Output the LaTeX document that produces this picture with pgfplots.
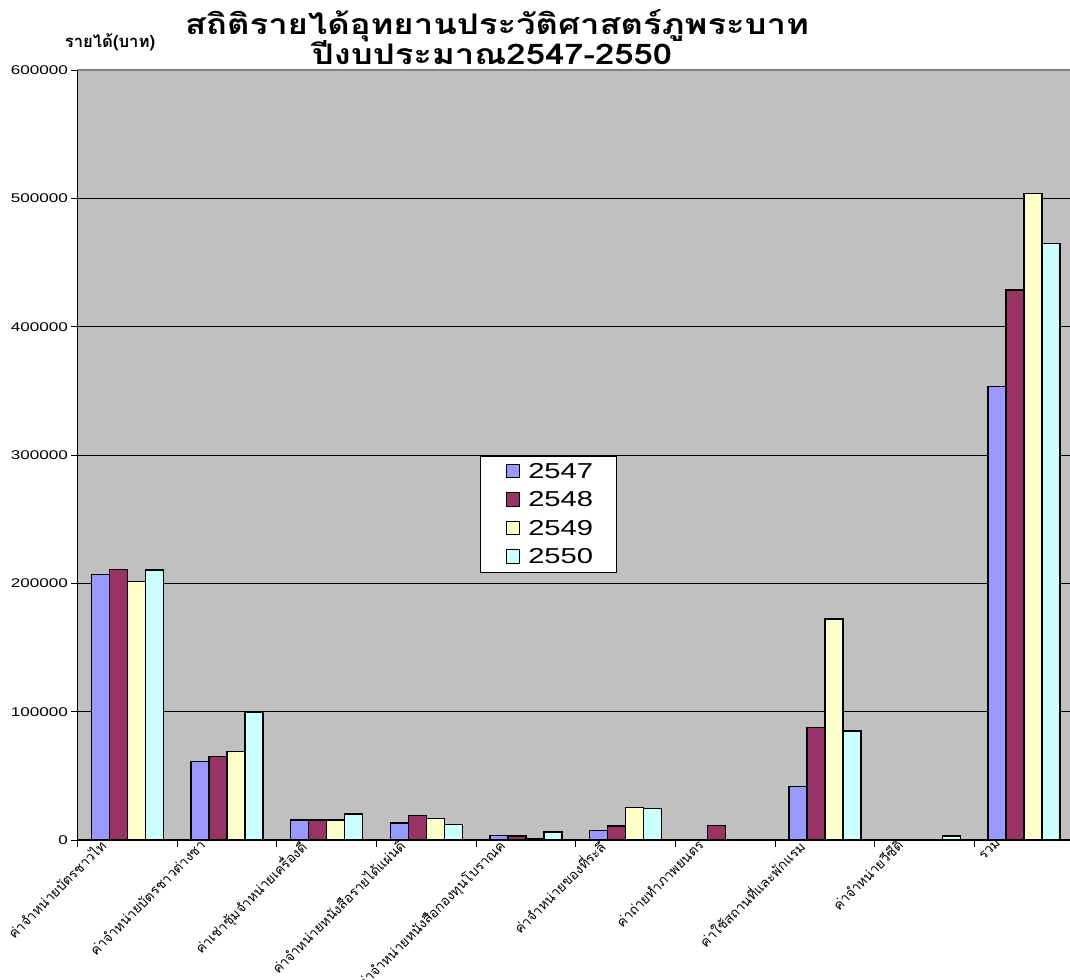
\documentclass[border=0pt]{standalone}
\usepackage{fontspec}
\usepackage{pgfplots}
\pgfplotsset{compat=1.18}
\setmainfont{Liberation Sans}
\newfontfamily\numfont{Liberation Sans}[FakeStretch=1.35]
\newfontfamily\thaifont[Script=Thai]{Loma}
\newfontfamily\thaititle[Script=Thai,FakeStretch=1.22]{Loma}
\definecolor{cA}{HTML}{9999FF}
\definecolor{cB}{HTML}{993366}
\definecolor{cC}{HTML}{FFFFCC}
\definecolor{cD}{HTML}{CCFFFF}
\definecolor{plotbg}{HTML}{C0C0C0}
\begin{document}
\begin{tikzpicture}
\useasboundingbox (-58.125pt,-104.25pt) rectangle (744.375pt,630pt);
\begin{axis}[
  at={(0,0)}, anchor=south west,
  scale only axis, width=747.4pt, height=577.5pt,
  xmin=-0.5, xmax=9.5, ymin=0, ymax=600000,
  ybar=0pt, bar width=13.5pt,
  axis background/.style={fill=plotbg},
  axis line style={draw=gray, line width=0.8pt},
  ytick={0,100000,200000,300000,400000,500000,600000},
  ymajorgrids, grid style={black, line width=0.6pt},
  scaled y ticks=false,
  yticklabel style={font=\numfont\fontsize{9.5}{10}\selectfont, inner sep=2pt,
    /pgf/number format/fixed, /pgf/number format/1000 sep={}, /pgf/number format/assume math mode=true},
  tick align=outside, major tick length=5pt, minor tick length=5pt,
  xtick pos=bottom, ytick pos=left,
  ytick style={black, line width=0.6pt},
  xtick={0,1,2,3,4,5,6,7,8,9},
  major x tick style={draw=none},
  minor xtick={-0.5,0.5,1.5,2.5,3.5,4.5,5.5,6.5,7.5,8.5,9.5},
  minor x tick style={black, line width=0.6pt},
  xticklabels={ค่าจำหน่ายบัตรชาวไท,ค่าจำหน่ายบัตรชาวต่างชา,ค่าเช่าซุ้มจำหน่ายเครื่องดื,ค่าจำหน่ายหนังสือรายได้แผ่นดิ,ค่าจำหน่ายหนังสือกองทุนโบราณค,ค่าจำหน่ายของที่ระลึ,ค่าถ่ายทำภาพยนตร,ค่าใช้สถานที่และพักแรม,ค่าจำหน่ายวีซีดี,รวม},
  xticklabel style={font=\thaifont\fontsize{10.2}{11}\selectfont, xshift=-21.5pt, yshift=8pt, rotate=45, anchor=north east, inner sep=1pt},
  legend style={at={(0.4039,0.4987)}, anchor=north west, draw=black, fill=white,
    font=\numfont\fontsize{16.2}{17}\selectfont, row sep=4.6pt, inner xsep=15pt, inner ysep=3pt},
  legend cell align=left,
  legend image code/.code={\path[draw=none,fill=none] (0pt,0pt) -- (19pt,0pt); \draw[#1, draw=black, line width=0.6pt] (4.5pt,-4.5pt) rectangle (14.5pt,5.5pt);},
  every axis plot/.append style={draw=black, line width=1.1pt},
  after end axis/.code={
    \draw[black, line width=0.8pt] (rel axis cs:0,0) -- (rel axis cs:0,1);
    \draw[black, line width=0.8pt] (rel axis cs:0,0) -- (rel axis cs:1,0);
    \node[font=\thaititle\bfseries\fontsize{21.3}{22}\selectfont, anchor=base, inner sep=0pt] at (rel axis cs:0.421,1.0455) {สถิติรายได้อุทยานประวัติศาสตร์ภูพระบาท};
    \node[font=\thaititle\bfseries\fontsize{21.3}{22}\selectfont, anchor=base, inner sep=0pt] at (rel axis cs:0.416,1.0065) {ปีงบประมาณ2547-2550};
    \node[font=\thaifont\bfseries\fontsize{12.5}{13}\selectfont] at (rel axis cs:0.0326,1.0364) {รายได้(บาท)};
  },
]
\addplot[fill=cA] coordinates {(0,207000) (1,61000) (2,15600) (3,13200) (4,3600) (5,7500) (7,41800) (9,353200)};
\addplot[fill=cB] coordinates {(0,210900) (1,64900) (2,15600) (3,19200) (4,3100) (5,10900) (6,11400) (7,87500) (9,428600)};
\addplot[fill=cC] coordinates {(0,201300) (1,68800) (2,15600) (3,16600) (4,1000) (5,25200) (7,172200) (9,503700)};
\addplot[fill=cD] coordinates {(0,210400) (1,99200) (2,20300) (3,12000) (4,6200) (5,24700) (7,85000) (8,3100) (9,465000)};
\legend{2547,2548,2549,2550}
\end{axis}
\end{tikzpicture}
\end{document}
